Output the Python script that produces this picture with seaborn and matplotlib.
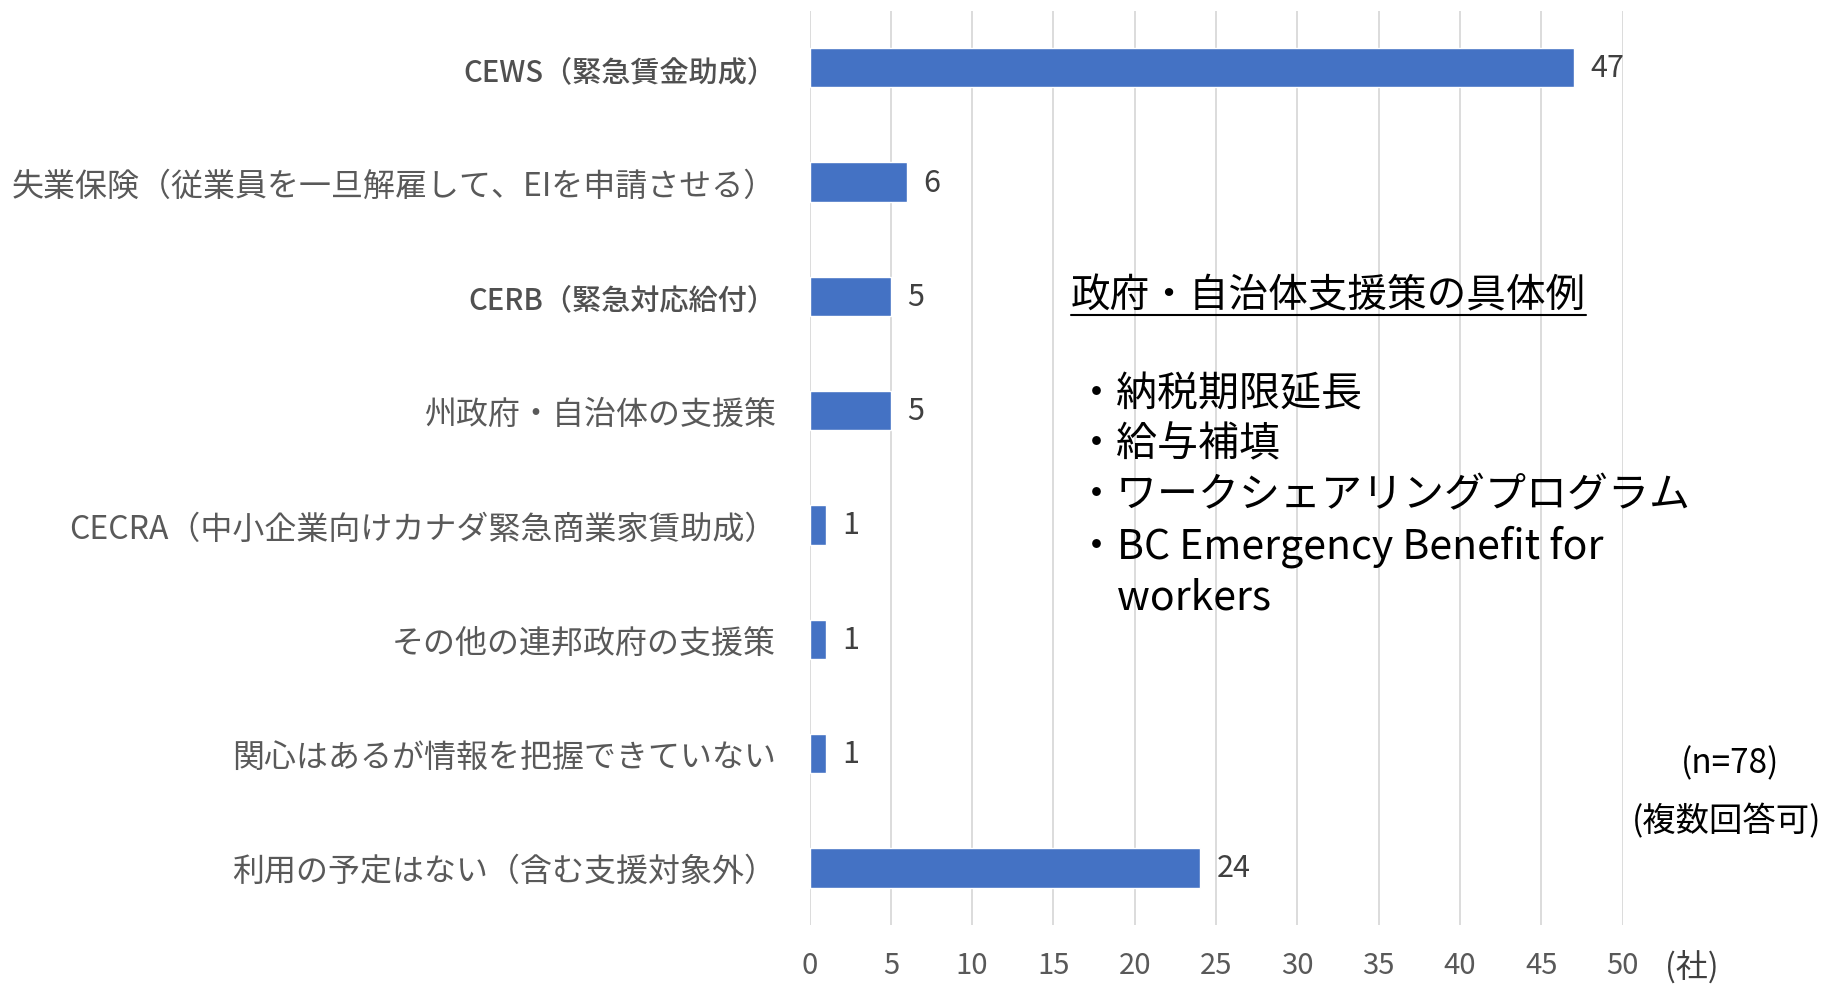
import matplotlib
matplotlib.use("Agg")
import matplotlib.pyplot as plt
import seaborn as sns
import pandas as pd
from matplotlib.lines import Line2D

# data
categories = [
    "CEWS（緊急賃金助成）",
    "失業保険（従業員を一旦解雇して、EIを申請させる）",
    "CERB（緊急対応給付）",
    "州政府・自治体の支援策",
    "CECRA（中小企業向けカナダ緊急商業家賃助成）",
    "その他の連邦政府の支援策",
    "関心はあるが情報を把握できていない",
    "利用の予定はない（含む支援対象外）",
]
counts = [47, 6, 5, 5, 1, 1, 1, 24]
bold_labels = ["CEWS（緊急賃金助成）", "CERB（緊急対応給付）"]
x_ticks = [0, 5, 10, 15, 20, 25, 30, 35, 40, 45, 50]
box_title = "政府・自治体支援策の具体例"
box_items = ["・納税期限延長", "・給与補填", "・ワークシェアリングプログラム",
             "・BC Emergency Benefit for", "　workers"]

df = pd.DataFrame({"item": categories, "count": counts})

sns.set_style("white")
plt.rcParams["font.family"] = ["Noto Sans CJK JP", "DejaVu Sans"]

W, H = 1821, 987
fig = plt.figure(figsize=(W / 100, H / 100), dpi=100)
ax = fig.add_axes([809.5 / W, 1 - 926 / H, (1622.5 - 809.5) / W, (926 - 11.6) / H])

sns.barplot(data=df, x="count", y="item", orient="h", color="#4472C4",
            width=0.345, saturation=1, ax=ax)

ax.set_xlim(0, 50)
ax.set_xticks(x_ticks)
ax.set_xlabel("")
ax.set_ylabel("")
ax.grid(axis="x", color="#D9D9D9", lw=1.3)
ax.set_axisbelow(True)
for s in ax.spines.values():
    s.set_visible(False)
ax.tick_params(axis="y", length=0, pad=24, labelsize=23, labelcolor="#595959")
ax.tick_params(axis="x", length=0, pad=18, labelsize=21, labelcolor="#595959")
for lab in ax.get_yticklabels():
    if lab.get_text() in bold_labels:
        lab.set_fontweight("medium")
        lab.set_fontsize(21)
        lab.set_color("#505050")

for c in ax.containers:
    ax.bar_label(c, padding=12, fontsize=22, color="#404040")

def fx(px):
    return px / W

def fy(py):
    return 1 - py / H

# unit label
fig.text(fx(1692), fy(967), "(社)", fontsize=23, color="#404040", ha="center", va="center")

# notes
fig.text(fx(1730), fy(764), "(n=78)", fontsize=24, color="#000000", ha="center", va="center")
fig.text(fx(1727), fy(822), "(複数回答可)", fontsize=24, color="#000000", ha="center", va="center")

# example box
t = fig.text(fx(1071), fy(296), box_title, fontsize=28.5, color="#000000", ha="left", va="center")
line_y = [394, 445, 496, 547, 598]
for txt, yy in zip(box_items, line_y):
    fig.text(fx(1076), fy(yy), txt, fontsize=29.5, color="#000000", ha="left", va="center")

fig.canvas.draw()
bb = t.get_window_extent()
fig.add_artist(Line2D([bb.x0 / W, bb.x1 / W], [fy(316), fy(316)],
                      transform=fig.transFigure, color="#000000", lw=1.5))

plt.savefig("out.png", dpi=100)
